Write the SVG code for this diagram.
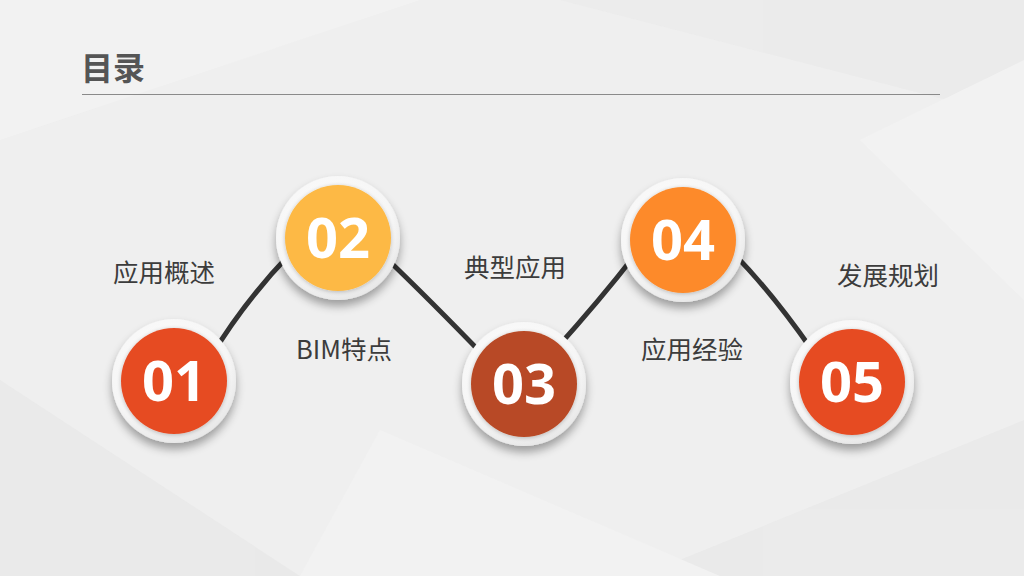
<svg xmlns="http://www.w3.org/2000/svg" width="1024" height="576" viewBox="0 0 1024 576">
<defs>
<radialGradient id="ring" cx="0.45" cy="0.4" r="0.65">
<stop offset="0" stop-color="#ffffff"/>
<stop offset="0.75" stop-color="#f6f6f6"/>
<stop offset="1" stop-color="#e2e2e2"/>
</radialGradient>
<filter id="sh" x="-30%" y="-30%" width="160%" height="170%">
<feGaussianBlur in="SourceAlpha" stdDeviation="5"/>
<feOffset dx="0" dy="6" result="b"/>
<feComponentTransfer><feFuncA type="linear" slope="0.35"/></feComponentTransfer>
<feMerge><feMergeNode/><feMergeNode in="SourceGraphic"/></feMerge>
</filter>
<filter id="ish" x="-20%" y="-20%" width="140%" height="140%">
<feGaussianBlur in="SourceAlpha" stdDeviation="2"/>
<feOffset dx="0" dy="1"/>
<feComponentTransfer><feFuncA type="linear" slope="0.25"/></feComponentTransfer>
<feMerge><feMergeNode/><feMergeNode in="SourceGraphic"/></feMerge>
</filter>
<style>
.num{font-family:"Open Sans","Liberation Sans",sans-serif;font-weight:700;font-size:56px;fill:#ffffff;text-anchor:middle}
.lbl{font-family:"Noto Sans CJK SC","Noto Sans",sans-serif;font-size:25.5px;fill:#3c3c3c;text-anchor:middle}
.link{fill:none;stroke:#333333;stroke-width:5;stroke-linecap:round}
</style>
</defs>
<rect width="1024" height="576" fill="#efefef"/>
<g opacity="0.6">
<polygon points="0,0 420,0 0,140" fill="#f3f3f3"/>
<polygon points="560,0 1024,0 1024,120" fill="#e9e9e9"/>
<polygon points="0,380 300,576 0,576" fill="#e6e6e6"/>
<polygon points="640,576 1024,420 1024,576" fill="#e7e7e7"/>
<polygon points="380,430 720,576 300,576" fill="#f4f4f4"/>
<polygon points="860,140 1024,60 1024,300" fill="#f5f5f5"/>
</g>
<g id="title">
<text x="81" y="80" font-family="Noto Sans CJK SC, sans-serif" font-weight="700" font-size="32" fill="#555555">目录</text>
<line x1="82" y1="94.5" x2="940" y2="94.5" stroke="#8a8a8a" stroke-width="1.2"/>
</g>
<g id="connectors">
<path class="link" d="M210,358 Q245,300 292,252"/>
<path class="link" d="M384,256 Q430,300 486,358"/>
<path class="link" d="M555,350 Q600,300 635,255"/>
<path class="link" d="M732,252 Q770,290 812,350"/>
</g>
<g id="n1" filter="url(#sh)">
<circle cx="174" cy="381" r="62" fill="url(#ring)"/>
<circle cx="174" cy="381" r="53" fill="#E64B22" filter="url(#ish)"/>
<text class="num" x="174" y="401">01</text>
</g>
<g id="n2" filter="url(#sh)">
<circle cx="338" cy="238" r="62" fill="url(#ring)"/>
<circle cx="338" cy="238" r="53" fill="#FDB944" filter="url(#ish)"/>
<text class="num" x="338" y="258">02</text>
</g>
<g id="n3" filter="url(#sh)">
<circle cx="524" cy="384" r="62" fill="url(#ring)"/>
<circle cx="524" cy="384" r="53" fill="#B84A25" filter="url(#ish)"/>
<text class="num" x="524" y="404">03</text>
</g>
<g id="n4" filter="url(#sh)">
<circle cx="683" cy="240" r="62" fill="url(#ring)"/>
<circle cx="683" cy="240" r="53" fill="#FD8A2A" filter="url(#ish)"/>
<text class="num" x="683" y="260">04</text>
</g>
<g id="n5" filter="url(#sh)">
<circle cx="852" cy="382" r="62" fill="url(#ring)"/>
<circle cx="852" cy="382" r="53" fill="#E64B22" filter="url(#ish)"/>
<text class="num" x="852" y="402">05</text>
</g>
<g id="labels">
<text class="lbl" x="164" y="282">应用概述</text>
<text class="lbl" x="344" y="359">BIM特点</text>
<text class="lbl" x="515" y="277">典型应用</text>
<text class="lbl" x="692" y="359">应用经验</text>
<text class="lbl" x="888" y="285">发展规划</text>
</g>
</svg>
